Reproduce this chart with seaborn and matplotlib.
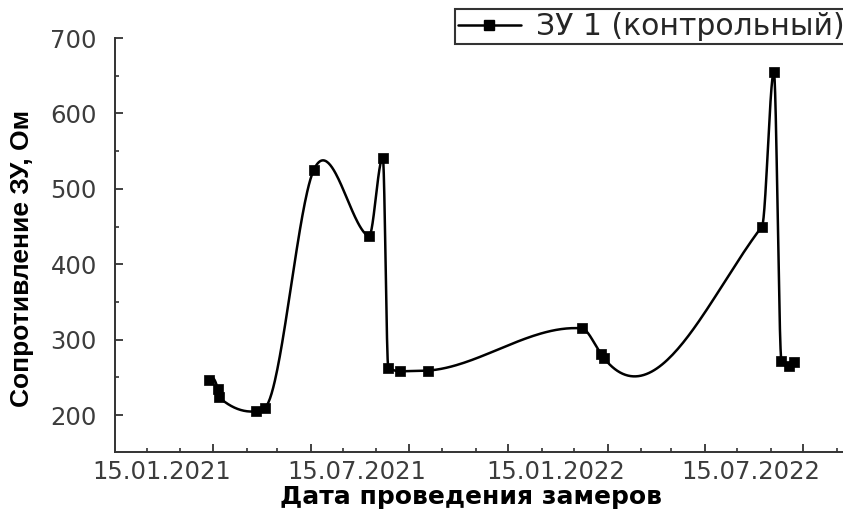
import numpy as np
import pandas as pd
import matplotlib
matplotlib.use("Agg")
import matplotlib.pyplot as plt
import matplotlib.dates as mdates
import matplotlib.transforms as mtransforms
from matplotlib.lines import Line2D
from matplotlib.ticker import MultipleLocator
import seaborn as sns

# ---------------- data ----------------
dates = ['2021-01-11', '2021-01-19', '2021-01-20', '2021-02-24', '2021-03-04',
         '2021-04-18', '2021-06-08', '2021-06-21', '2021-06-26', '2021-07-07',
         '2021-08-02', '2021-12-22', '2022-01-09', '2022-01-12', '2022-06-07',
         '2022-06-18', '2022-06-25', '2022-07-02', '2022-07-07']
resistance = [246, 235, 224, 205, 210,
              525, 437, 541, 263, 258,
              259, 315, 281, 275, 450,
              655, 272, 265, 271]

tick_dates = ['2021-01-15', '2021-04-15', '2021-07-15', '2021-10-15',
              '2022-01-15', '2022-04-15', '2022-07-15']
tick_labels = ['15.01.2021', '', '15.07.2021', '', '15.01.2022', '', '15.07.2022']
x_limits = ['2020-10-16', '2022-08-21']
y_limits = [151, 700]

series_name = 'ЗУ 1 (контрольный)'
x_title = 'Дата проведения замеров'
y_title = 'Сопротивление ЗУ, Ом'


def makima_curve(x, y, n=60):
    """Modified Akima cubic interpolation (smooth connecting line)."""
    x = np.asarray(x, float)
    y = np.asarray(y, float)
    m = np.diff(y) / np.diff(x)
    mm = np.concatenate([[3 * m[0] - 2 * m[1], 2 * m[0] - m[1]], m,
                         [2 * m[-1] - m[-2], 3 * m[-1] - 2 * m[-2]]])
    dm = np.abs(np.diff(mm))
    sm = np.abs(mm[1:] + mm[:-1]) / 2
    w1 = dm[2:] + sm[2:]
    w2 = dm[:-2] + sm[:-2]
    a = mm[1:-2]
    b = mm[2:-1]
    den = w1 + w2
    safe = np.where(den > 1e-12, den, 1)
    t = np.where(den > 1e-12, (w1 * a + w2 * b) / safe, 0.5 * (a + b))
    xs, ys = [], []
    for i in range(len(x) - 1):
        h = x[i + 1] - x[i]
        s = np.linspace(0, 1, n, endpoint=(i == len(x) - 2))
        h00 = 2 * s**3 - 3 * s**2 + 1
        h10 = s**3 - 2 * s**2 + s
        h01 = -2 * s**3 + 3 * s**2
        h11 = s**3 - s**2
        xs.append(x[i] + s * h)
        ys.append(h00 * y[i] + h10 * h * t[i] + h01 * y[i + 1] + h11 * h * t[i + 1])
    return np.concatenate(xs), np.concatenate(ys)


base = pd.Timestamp('2020-01-01')
pts = pd.DataFrame({'date': pd.to_datetime(dates), 'value': resistance})
days = (pts['date'] - base).dt.total_seconds().to_numpy() / 86400.0
cx, cy = makima_curve(days, pts['value'].to_numpy())
curve = pd.DataFrame({'date': base + pd.to_timedelta(cx, unit='D'), 'value': cy})

# ---------------- style ----------------
sns.set_style('ticks')
plt.rcParams['font.family'] = ['DejaVu Sans']

fig = plt.figure(figsize=(8.43, 5.13), dpi=100)
ax = fig.add_axes([115 / 843, 61 / 513, 728 / 843, 414 / 513])

sns.lineplot(data=curve, x='date', y='value', sort=False, color='black',
             linewidth=1.8, ax=ax, legend=False)
sns.scatterplot(data=pts, x='date', y='value', marker='s', s=58, color='black',
                edgecolor='black', linewidth=0.5, ax=ax, legend=False, zorder=5)

ax.set_xlim(mdates.datestr2num(x_limits))
ax.set_ylim(*y_limits)

ax.set_xticks(mdates.datestr2num(tick_dates), tick_labels)
ax.xaxis.set_minor_locator(mdates.MonthLocator(bymonthday=15))
ax.yaxis.set_major_locator(MultipleLocator(100))
ax.yaxis.set_minor_locator(MultipleLocator(50))

ax.tick_params(axis='both', which='major', direction='in', length=6, width=1.3,
               color='#333333', labelsize=17.5, labelcolor='#3c3c3c')
ax.tick_params(axis='both', which='minor', direction='in', length=3, width=1.2,
               color='#333333')
ax.tick_params(axis='x', which='major', pad=6)
ax.tick_params(axis='y', which='major', pad=13)

for side in ['top', 'right']:
    ax.spines[side].set_visible(False)
for side in ['left', 'bottom']:
    ax.spines[side].set_color('#333333')
    ax.spines[side].set_linewidth(1.4)

offset = mtransforms.ScaledTranslation(-52 / 100, 0, fig.dpi_scale_trans)
for lab in ax.xaxis.get_majorticklabels():
    lab.set_transform(lab.get_transform() + offset)

ax.set_xlabel(x_title, fontsize=18, fontweight='bold', color='black',
              family=['DejaVu Sans'])
ax.xaxis.set_label_coords((471 - 115) / 728, (452 - 497) / 414)
ax.xaxis.label.set_va('center')

ax.set_ylabel(y_title, fontsize=19, fontweight='bold', color='black',
              family=['Liberation Sans', 'DejaVu Sans'])
ax.yaxis.set_label_coords((22 - 115) / 728, (452 - 258) / 414)
ax.yaxis.label.set_va('center')

handle = Line2D([], [], color='black', linewidth=1.8, marker='s', markersize=7)
leg = fig.legend([handle], [series_name], loc='upper left',
                 bbox_to_anchor=(455 / 843, 1 - 9 / 513), frameon=True,
                 fancybox=False, borderaxespad=0,
                 prop={'family': 'DejaVu Sans', 'size': 21.5},
                 handlelength=2.1, handletextpad=0.5, borderpad=0.1)
leg.get_frame().set_edgecolor('#333333')
leg.get_frame().set_linewidth(1.5)
leg.get_frame().set_alpha(1)

fig.savefig('out.png', dpi=100)
